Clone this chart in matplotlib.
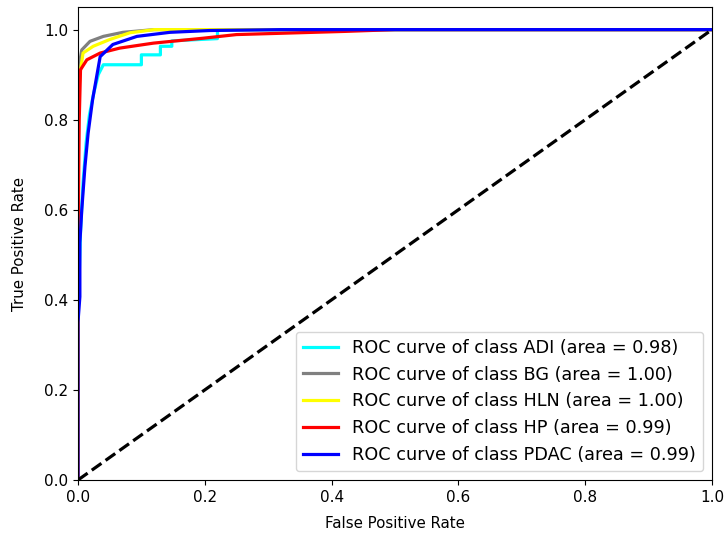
import numpy as np
import matplotlib
matplotlib.use("Agg")
import matplotlib.pyplot as plt

# ROC points (fpr, tpr)
classes = ["ADI", "BG", "HLN", "HP", "PDAC"]
areas = [0.98, 1.00, 1.00, 0.99, 0.99]
colors = ["aqua", "gray", "yellow", "red", "blue"]

fpr_adi = [0.0, 0.0, 0.004, 0.008, 0.013, 0.018, 0.025, 0.032, 0.04, 0.10, 0.10, 0.13, 0.13, 0.148, 0.148, 0.22, 0.22, 1.0]
tpr_adi = [0.0, 0.36, 0.55, 0.66, 0.75, 0.81, 0.86, 0.9, 0.922, 0.922, 0.944, 0.944, 0.963, 0.963, 0.975, 0.98, 1.0, 1.0]

fpr_bg = [0.0, 0.0, 0.003, 0.006, 0.019, 0.04, 0.071, 0.12, 1.0]
tpr_bg = [0.0, 0.87, 0.93, 0.955, 0.974, 0.985, 0.994, 1.0, 1.0]

fpr_hln = [0.0, 0.0, 0.004, 0.008, 0.024, 0.05, 0.082, 0.12, 1.0]
tpr_hln = [0.0, 0.84, 0.91, 0.948, 0.963, 0.978, 0.993, 1.0, 1.0]

fpr_hp = [0.0, 0.0, 0.002, 0.004, 0.014, 0.035, 0.066, 0.119, 0.198, 0.25, 0.42, 0.5, 1.0]
tpr_hp = [0.0, 0.52, 0.8, 0.911, 0.933, 0.948, 0.959, 0.97, 0.981, 0.989, 0.996, 1.0, 1.0]

fpr_pdac = [0.0, 0.0, 0.003, 0.003, 0.006, 0.011, 0.016, 0.023, 0.035, 0.055, 0.093, 0.145, 0.208, 0.32, 1.0]
tpr_pdac = [0.0, 0.35, 0.407, 0.527, 0.6, 0.696, 0.77, 0.844, 0.94, 0.967, 0.985, 0.994, 0.998, 1.0, 1.0]

fprs = [fpr_adi, fpr_bg, fpr_hln, fpr_hp, fpr_pdac]
tprs = [tpr_adi, tpr_bg, tpr_hln, tpr_hp, tpr_pdac]

fig = plt.figure(figsize=(7.26, 5.38), dpi=100)
ax = fig.add_axes([0.1074, 0.1078, 0.8733, 0.879])

for name, a, c, x, y in zip(classes, areas, colors, fprs, tprs):
    ax.plot(x, y, color=c, lw=2.3,
            label='ROC curve of class {0} (area = {1:0.2f})'.format(name, a))

ax.plot([0, 1], [0, 1], 'k--', lw=2.3)
ax.set_xlim([0.0, 1.0])
ax.set_ylim([0.0, 1.05])
ax.set_xlabel('False Positive Rate', fontsize=10.8, labelpad=8)
ax.set_ylabel('True Positive Rate', fontsize=10.8, labelpad=12)
ax.tick_params(labelsize=11)
ax.legend(loc="lower right", fontsize=12.7)

fig.savefig("out.png", dpi=100)
